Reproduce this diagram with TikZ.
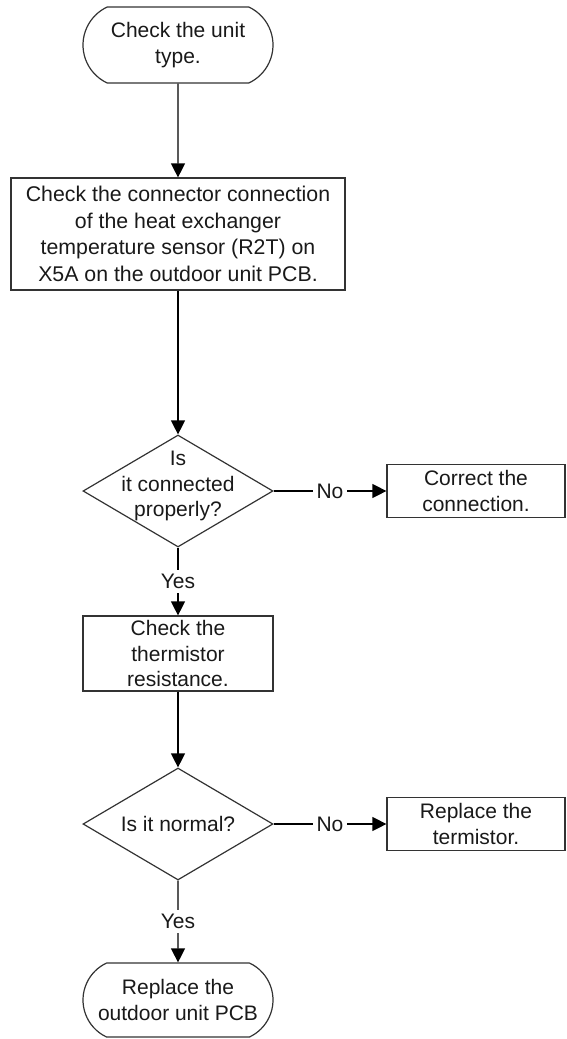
\documentclass[tikz,border=0pt]{standalone}
\usepackage{fontspec}
\setmainfont{Liberation Sans}
\usetikzlibrary{arrows.meta,shapes.geometric,shapes.misc}

\tikzset{
  term/.style={rounded rectangle, rounded rectangle arc length=130, draw=black!80,
    minimum width=190pt, minimum height=76pt, inner sep=0pt, align=center},
  procbox/.style={rectangle, draw=black!80, inner sep=0pt, align=center},
  decision/.style={diamond, draw=black!80, minimum width=190pt, minimum height=112pt, inner sep=0pt},
  flow/.style={-{Triangle[length=14pt,width=14pt]}, draw=black},
  tag/.style={fill=white, inner sep=4pt},
}

\begin{document}
\begin{tikzpicture}[x=1pt, y=-1pt, line width=1.2pt, font=\fontsize{21}{25.5}\selectfont, text=black!90]
  \useasboundingbox (0,0) rectangle (566,1039);
  % steps
  \node[term] (start) at (178,45) {Check the unit\\type.};
  \node[procbox, minimum width=334pt, minimum height=112pt, font=\fontsize{21.3}{26.5}\selectfont] (conn) at (178,234)
    {Check the connector connection\\of the heat exchanger\\temperature sensor (R2T) on\\X5A on the outdoor unit PCB.};
  \node[decision] (isconn) at (178,491) {};
  \node[align=center] (isconntxt) at (178,486) {Is\\it connected\\properly?};
  \node[procbox, minimum width=178pt, minimum height=53pt] (fix) at (476,491) {Correct the\\connection.};
  \node[procbox, minimum width=190pt, minimum height=75pt] (therm) at (178,653.5) {Check the\\thermistor\\resistance.};
  \node[decision] (isnorm) at (178,824) {};
  \node (isnormtxt) at (178,824) {Is it normal?};
  \node[procbox, minimum width=178pt, minimum height=53pt] (repl) at (476,824) {Replace the\\termistor.};
  \node[term, minimum height=74pt] (finish) at (178,1000) {Replace the\\outdoor unit PCB};
  % connectors
  \draw[flow] (start) -- (conn);
  \draw[flow] (conn) -- (isconn);
  \draw[flow] (isconn) -- node[tag]{No} (fix);
  \draw[flow] (isconn) -- node[tag]{Yes} (therm);
  \draw[flow] (therm) -- (isnorm);
  \draw[flow] (isnorm) -- node[tag]{No} (repl);
  \draw[flow] (isnorm) -- node[tag]{Yes} (finish);
\end{tikzpicture}
\end{document}
